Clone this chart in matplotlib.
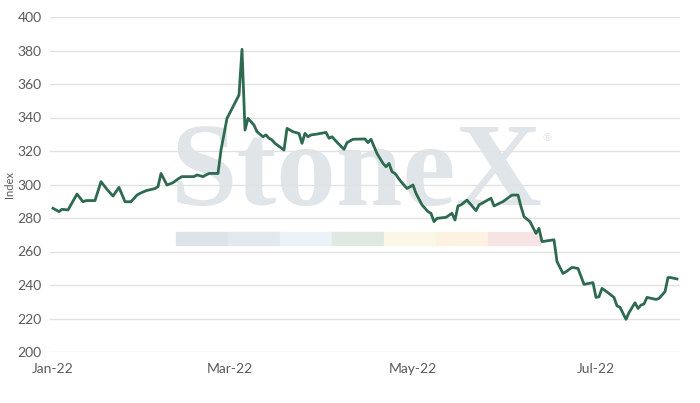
import matplotlib
matplotlib.use("Agg")
import matplotlib.pyplot as plt
import pandas as pd

# Index values (date, level)
dates = [
    "2022-01-01", "2022-01-02", "2022-01-03", "2022-01-04", "2022-01-06", "2022-01-09",
    "2022-01-11", "2022-01-12", "2022-01-15", "2022-01-17", "2022-01-19", "2022-01-21",
    "2022-01-23", "2022-01-25", "2022-01-27", "2022-01-29", "2022-01-30", "2022-02-01",
    "2022-02-04", "2022-02-05", "2022-02-06", "2022-02-08", "2022-02-10", "2022-02-12",
    "2022-02-13", "2022-02-17", "2022-02-18", "2022-02-20", "2022-02-21", "2022-02-22",
    "2022-02-25", "2022-02-26", "2022-02-28", "2022-03-04", "2022-03-05", "2022-03-06",
    "2022-03-07", "2022-03-09", "2022-03-10", "2022-03-12", "2022-03-13", "2022-03-14",
    "2022-03-15", "2022-03-16", "2022-03-19", "2022-03-20", "2022-03-22", "2022-03-24",
    "2022-03-25", "2022-03-26", "2022-03-27", "2022-03-28", "2022-03-30", "2022-04-02",
    "2022-04-03", "2022-04-04", "2022-04-06", "2022-04-08", "2022-04-09", "2022-04-11",
    "2022-04-15", "2022-04-16", "2022-04-17", "2022-04-19", "2022-04-21", "2022-04-22",
    "2022-04-23", "2022-04-24", "2022-04-25", "2022-04-27", "2022-04-29", "2022-05-01",
    "2022-05-02", "2022-05-04", "2022-05-06", "2022-05-07", "2022-05-08", "2022-05-09",
    "2022-05-12", "2022-05-14", "2022-05-15", "2022-05-16", "2022-05-17", "2022-05-19",
    "2022-05-22", "2022-05-23", "2022-05-27", "2022-05-28", "2022-05-31", "2022-06-03",
    "2022-06-05", "2022-06-06", "2022-06-07", "2022-06-09", "2022-06-11", "2022-06-12",
    "2022-06-13", "2022-06-17", "2022-06-18", "2022-06-20", "2022-06-21", "2022-06-23",
    "2022-06-25", "2022-06-27", "2022-06-30", "2022-07-01", "2022-07-02", "2022-07-03",
    "2022-07-05", "2022-07-07", "2022-07-08", "2022-07-09", "2022-07-11", "2022-07-12",
    "2022-07-14", "2022-07-15", "2022-07-16", "2022-07-17", "2022-07-18", "2022-07-21",
    "2022-07-22", "2022-07-24", "2022-07-25", "2022-07-26", "2022-07-28",
]
index_values = [
    285.8, 284.8, 283.8, 285.2, 284.8, 294.3,
    289.7, 290.4, 290.4, 301.7, 297.1, 293.1,
    298.3, 289.7, 289.7, 293.7, 294.7, 296.3,
    297.6, 298.7, 306.6, 299.7, 301.1, 303.7,
    304.7, 304.7, 305.7, 304.7, 305.7, 306.6,
    306.6, 320.6, 339.5, 353.4, 380.7, 332.5,
    339.5, 335.5, 331.5, 328.5, 329.6, 327.6,
    326.6, 324.6, 320.6, 333.5, 331.5, 330.5,
    324.6, 330.5, 328.5, 329.6, 330.1, 331.1,
    327.6, 328.5, 324.6, 321.0, 325.0, 327.0,
    327.2, 325.0, 327.0, 318.5, 312.6, 310.6,
    312.6, 307.6, 306.6, 301.7, 297.6, 299.7,
    294.7, 287.8, 283.8, 282.8, 277.8, 279.8,
    280.4, 282.8, 278.8, 287.2, 287.8, 290.7,
    284.4, 287.8, 291.8, 287.2, 289.8, 293.7,
    293.7, 286.8, 280.8, 277.8, 270.8, 273.8,
    265.9, 267.0, 254.0, 246.9, 247.9, 250.5,
    249.9, 240.4, 241.4, 232.6, 233.0, 238.0,
    235.4, 232.6, 227.5, 226.7, 219.5, 223.5,
    229.4, 226.0, 228.0, 228.7, 232.6, 231.4,
    232.0, 236.0, 244.5, 244.4, 243.6,
]
tick_dates = ["2022-01-01", "2022-03-01", "2022-05-01", "2022-07-01"]
tick_labels = ["Jan-22", "Mar-22", "May-22", "Jul-22"]
y_ticks = [200, 220, 240, 260, 280, 300, 320, 340, 360, 380, 400]

# watermark colour strip
strip_colors = ["#dde3e8", "#e2e8ee", "#eaf1f7", "#dfe8e3", "#fbf7e6", "#fdf2e2", "#f6e3e3"]

plt.rcParams['font.family'] = ['Lato', 'DejaVu Sans']

fig = plt.figure(figsize=(7.0, 4.03), dpi=100)
ax = fig.add_axes([50 / 700, 51 / 403, 630 / 700, 335 / 403])
ax.set_zorder(2)  # keep the line above the watermark

# watermark
fig.text(357 / 700, 1 - 205 / 403, "StoneX", family="Liberation Serif", fontsize=86,
         weight="bold", color="#e0e5e9", ha="center", va="baseline", zorder=0)
fig.text(547 / 700, 1 - 138 / 403, "\u00ae", family="DejaVu Sans", fontsize=8,
         color="#e0e5e9", ha="center", va="center", zorder=0)
seg_w = 52 / 700
for i, c in enumerate(strip_colors):
    fig.patches.append(plt.Rectangle((176 / 700 + i * seg_w, 1 - 245 / 403), seg_w, 13 / 403,
                                     transform=fig.transFigure, color=c, zorder=0))

ax.set_facecolor("none")
x = pd.to_datetime(dates)
ax.plot(x, index_values, color="#2d6a4f", lw=2.0, solid_joinstyle="round", zorder=3)

ax.set_ylim(200, 400)
ax.set_yticks(y_ticks)
ax.set_xlim(pd.Timestamp("2021-12-31"), pd.Timestamp("2022-07-29"))
ax.set_xticks(pd.to_datetime(tick_dates))
ax.set_xticklabels(tick_labels)
ax.grid(axis="y", color="#e2e2e2", lw=1.0)
ax.set_axisbelow(True)
for s in ax.spines.values():
    s.set_visible(False)
ax.tick_params(length=0, labelsize=10, labelcolor="#5a5a5a")
ax.tick_params(axis="y", pad=6)
ax.tick_params(axis="x", pad=8)
ax.set_ylabel("Index", fontsize=8, color="#5a5a5a", labelpad=2)

fig.savefig("out.png", dpi=100)
